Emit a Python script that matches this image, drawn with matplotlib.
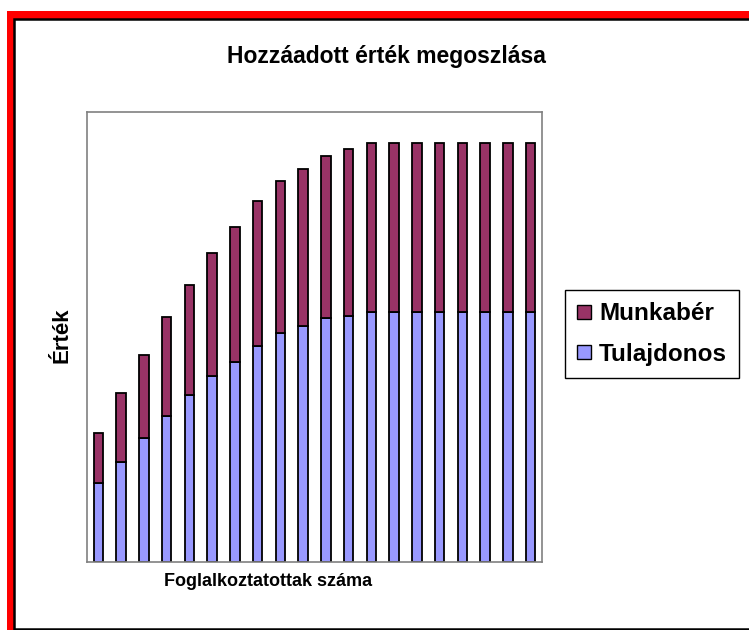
import matplotlib.pyplot as plt
import numpy as np
from matplotlib.patches import Rectangle, Patch

# values (arbitrary units, 0..450 scale)
categories = list(range(1, 21))
tulajdonos = [79, 100, 124, 146, 167, 186, 200, 216, 229, 236,
              244, 246, 250, 250, 250, 250, 250, 250, 250, 250]
total = [129, 169, 207, 245, 277, 309, 335, 361, 381, 393,
         406, 413, 419, 419, 419, 419, 419, 419, 419, 419]
munkaber = [t - b for t, b in zip(total, tulajdonos)]

series_names = ['Munkabér', 'Tulajdonos']
colors = {'Munkabér': '#993366', 'Tulajdonos': '#9999FF'}

W, H = 749, 630
plt.rcParams['font.family'] = ['Liberation Sans', 'DejaVu Sans']

fig = plt.figure(figsize=(W / 100, H / 100), dpi=100)
fig.patch.set_facecolor('white')

# red frame (cropped on right and bottom)
fig.patches.append(Rectangle((7 / W, -0.1), 2, 619 / H + 0.1,
                             transform=fig.transFigure, facecolor='#FF0000',
                             edgecolor='none', zorder=-3))
fig.patches.append(Rectangle((14 / W, 1 / H), 2, 610 / H,
                             transform=fig.transFigure, facecolor='white',
                             edgecolor='black', linewidth=1.8, zorder=-2))

ax = fig.add_axes([87 / W, (H - 562) / H, 455 / W, 450 / H])
ax.set_zorder(1)
x = np.arange(len(categories))
ax.bar(x, tulajdonos, width=0.42, color=colors['Tulajdonos'],
       edgecolor='black', linewidth=1.3, zorder=2)
ax.bar(x, munkaber, width=0.42, bottom=tulajdonos, color=colors['Munkabér'],
       edgecolor='black', linewidth=1.3, zorder=2)

ax.set_xlim(-0.5, len(categories) - 0.5)
ax.set_ylim(0, 450)
ax.set_xticks([])
ax.set_yticks([])
for s in ax.spines.values():
    s.set_color('#808080')
    s.set_linewidth(1.2)

fig.text(386 / W, 1 - 57 / H, 'Hozzáadott érték megoszlása',
         ha='center', va='center', fontsize=16.5, fontweight='bold')
fig.text(268 / W, 1 - 581 / H, 'Foglalkoztatottak száma',
         ha='center', va='center', fontsize=13, fontweight='bold')
fig.text(62 / W, 1 - 335 / H, 'Érték', ha='center', va='center',
         rotation=90, fontsize=16, fontweight='bold')

handles = [Patch(facecolor=colors[n], edgecolor='black', label=n)
           for n in series_names]
leg = fig.legend(handles=handles, loc='center left',
                 bbox_to_anchor=(565 / W, 1 - 334 / H),
                 bbox_transform=fig.transFigure, fancybox=False,
                 edgecolor='black', framealpha=1, handlelength=0.55,
                 handleheight=0.55, handletextpad=0.35, labelspacing=0.7,
                 borderpad=0.5, borderaxespad=0,
                 prop={'weight': 'bold', 'size': 17.5})
leg.get_frame().set_linewidth(1.0)

fig.savefig('out.png', dpi=100)
